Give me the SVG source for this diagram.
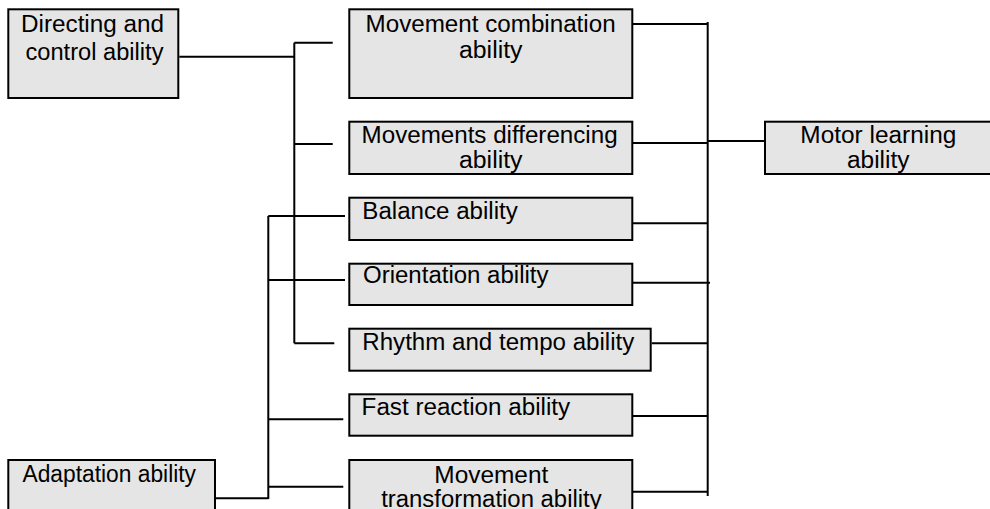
<svg xmlns="http://www.w3.org/2000/svg" width="990" height="509" viewBox="0 0 990 509">
<style>
.box{fill:#e5e5e5;stroke:#000;stroke-width:2}
.t{font-family:"Liberation Sans",Arial,sans-serif;font-size:23.5px;fill:#000}
.c{stroke:#000;stroke-width:2;fill:none}
</style>
<rect width="990" height="509" fill="#fff"/>
<g id="connectors">
<path class="c" d="M179.3 56.7H294.3M294.3 42.7V343.3M294.3 42.7H332.7M294.3 144H332.7M294.3 343.3H334.3"/>
<path class="c" d="M268.3 216V499M268.3 216H345M268.3 280H345M268.3 419.3H343.3M268.3 486.7H343.3M213 498.3H268.3"/>
<path class="c" d="M707.7 22V496M629 24H707.7M631 143H707.7M707.7 141H764M633 223.3H707.7M633 282.7H710M651.7 343.3H707.7M633 416H707.7M631.7 491.7H707.7"/>
</g>
<g id="directing">
<rect class="box" x="8.3" y="9.3" width="170" height="88.7"/>
<text class="t" x="21" y="31.7" textLength="143" lengthAdjust="spacingAndGlyphs">Directing and</text>
<text class="t" x="25.5" y="59.5" textLength="138" lengthAdjust="spacingAndGlyphs">control ability</text>
</g>
<g id="movement-combination">
<rect class="box" x="349.3" y="9.3" width="283" height="88.7"/>
<text class="t" x="365.6" y="31.7" textLength="250" lengthAdjust="spacingAndGlyphs">Movement combination</text>
<text class="t" x="459" y="58.3" textLength="63.5" lengthAdjust="spacingAndGlyphs">ability</text>
</g>
<g id="movements-differencing">
<rect class="box" x="349.3" y="121.7" width="283" height="52.3"/>
<text class="t" x="361.6" y="143.3" textLength="256" lengthAdjust="spacingAndGlyphs">Movements differencing</text>
<text class="t" x="459" y="168" textLength="63.5" lengthAdjust="spacingAndGlyphs">ability</text>
</g>
<g id="motor-learning">
<rect class="box" x="765" y="121.7" width="230" height="52.3"/>
<text class="t" x="800.3" y="143.3" textLength="156" lengthAdjust="spacingAndGlyphs">Motor learning</text>
<text class="t" x="847" y="168.3" textLength="62.5" lengthAdjust="spacingAndGlyphs">ability</text>
</g>
<g id="balance">
<rect class="box" x="349.3" y="197.7" width="283" height="42.3"/>
<text class="t" x="362.3" y="219.3" textLength="155.5" lengthAdjust="spacingAndGlyphs">Balance ability</text>
</g>
<g id="orientation">
<rect class="box" x="349.3" y="263.7" width="283" height="41.3"/>
<text class="t" x="363" y="283.3" textLength="185.5" lengthAdjust="spacingAndGlyphs">Orientation ability</text>
</g>
<g id="rhythm">
<rect class="box" x="349.3" y="328.7" width="301.4" height="42"/>
<text class="t" x="362.3" y="350" textLength="272" lengthAdjust="spacingAndGlyphs">Rhythm and tempo ability</text>
</g>
<g id="fast-reaction">
<rect class="box" x="349.3" y="394.3" width="283" height="41.4"/>
<text class="t" x="361.6" y="415" textLength="208.5" lengthAdjust="spacingAndGlyphs">Fast reaction ability</text>
</g>
<g id="adaptation">
<rect class="box" x="8.3" y="460" width="206.7" height="60"/>
<text class="t" x="22.5" y="481.7" textLength="173.5" lengthAdjust="spacingAndGlyphs">Adaptation ability</text>
</g>
<g id="movement-transformation">
<rect class="box" x="349.3" y="460" width="283" height="60"/>
<text class="t" x="434.3" y="483.3" textLength="114" lengthAdjust="spacingAndGlyphs">Movement</text>
<text class="t" x="381.2" y="506.7" textLength="220.5" lengthAdjust="spacingAndGlyphs">transformation ability</text>
</g>
</svg>
